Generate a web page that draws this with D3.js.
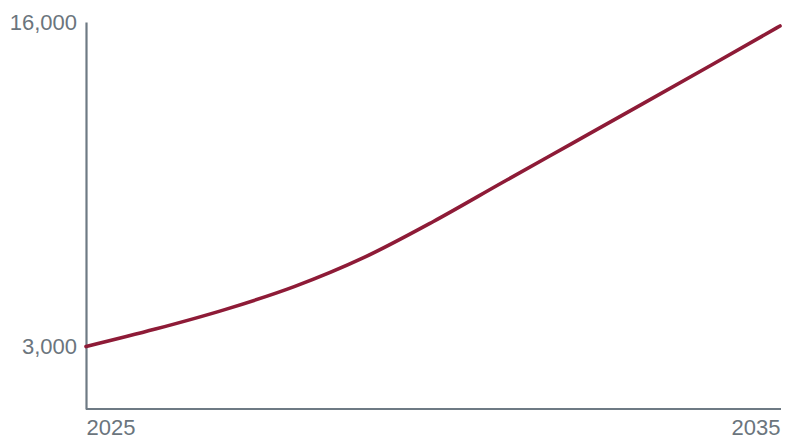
<!DOCTYPE html>
<html lang="en">
<head>
  <meta charset="UTF-8" />
  <title>Growth 2025–2035</title>
  <script src="https://d3js.org/d3.v7.min.js"></script>
  <style>
    html, body {
      margin: 0;
      background: #fff;
      font-family: "Liberation Sans", Arial, sans-serif;
    }
    svg { display: block; }
    .axis path {
      stroke: #6e7a84;
      stroke-width: 2.2;
      fill: none;
    }
    .axis text {
      font-family: "Liberation Sans", Arial, sans-serif;
      font-size: 22px;
      fill: #6b757d;
    }
    .series {
      fill: none;
      stroke: #8e1b37;
      stroke-width: 3.6;
      stroke-linecap: round;
    }
  </style>
</head>
<body>
  <svg id="chart" width="800" height="447"></svg>
  <script>
    // values
    const years = [2025, 2026, 2027, 2028, 2029, 2030, 2031, 2032, 2033, 2034, 2035];
    const values = [3000, 3700, 4480, 5400, 6560, 8000, 9570, 11130, 12690, 14260, 15840];
    const yTicks = [3000, 16000];
    const xTicks = [2025, 2035];

    const margin = { top: 22, right: 20, bottom: 38, left: 86 };
    const width = 800 - margin.left - margin.right;
    const height = 447 - margin.top - margin.bottom;

    const svg = d3.select('#chart')
      .append('g')
      .attr('transform', `translate(${margin.left},${margin.top})`);

    const x = d3.scaleLinear().domain([2025, 2035]).range([0, 694]);
    const y = d3.scaleLinear().domain([500, 16000]).range([height, 0]);

    // y axis
    const yAxis = svg.append('g')
      .attr('class', 'axis')
      .call(d3.axisLeft(y).tickValues(yTicks).tickSize(0).tickSizeOuter(0).tickPadding(9)
        .tickFormat(d3.format(',')));
    yAxis.selectAll('.tick line').remove();

    // x axis
    const xAxis = svg.append('g')
      .attr('class', 'axis')
      .attr('transform', `translate(0,${height})`)
      .call(d3.axisBottom(x).tickValues(xTicks).tickSize(0).tickSizeOuter(0).tickPadding(10)
        .tickFormat(d3.format('d')));
    xAxis.select('.domain').attr('d', `M0,0H${x(2035) + 1}`);
    xAxis.selectAll('.tick line').remove();
    xAxis.selectAll('.tick text')
      .attr('text-anchor', d => d === 2025 ? 'start' : 'end');

    const line = d3.line()
      .x((d, i) => x(years[i]))
      .y(d => y(d))
      .curve(d3.curveMonotoneX);

    svg.append('path')
      .datum(values)
      .attr('class', 'series')
      .attr('d', line);
  </script>
</body>
</html>
